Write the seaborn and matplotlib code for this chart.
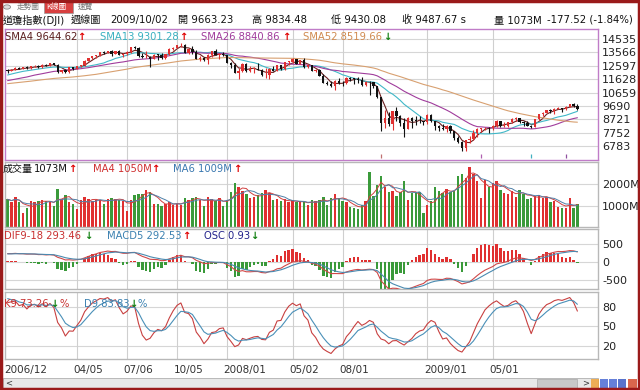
import matplotlib
matplotlib.use("Agg")
import matplotlib.pyplot as plt
import matplotlib.transforms as mtransforms
from matplotlib.patches import Rectangle, Circle
import numpy as np
import pandas as pd
import seaborn as sns

sns.set_theme(style="white")
plt.rcParams['font.family'] = ['DejaVu Sans', 'Noto Sans CJK TC']
CJK = ['Noto Sans CJK TC', 'DejaVu Sans']

# weekly closes before the visible window (only used to warm up the averages)
warmup_close = [10877, 10778, 10875, 10883, 10718, 10959, 10960, 10667, 10907, 10793,
                10919, 11115, 11061, 11022, 11077, 11279, 11280, 11109, 11120, 11137,
                11347, 11367, 11577, 11380, 11144, 11278, 11247, 10891, 11015, 10989,
                11150, 11090, 10739, 10868, 11219, 11240, 11088, 11381, 11284, 11464,
                11392, 11560, 11508, 11679, 11851, 11961, 12002, 12090, 11986, 12108,
                12343, 12280]

dates = [
    "2006-12-01", "2006-12-08", "2006-12-15", "2006-12-22", "2006-12-29",
    "2007-01-05", "2007-01-12", "2007-01-19", "2007-01-26",
    "2007-02-02", "2007-02-09", "2007-02-16", "2007-02-23",
    "2007-03-02", "2007-03-09", "2007-03-16", "2007-03-23", "2007-03-30",
    "2007-04-05", "2007-04-13", "2007-04-20", "2007-04-27",
    "2007-05-04", "2007-05-11", "2007-05-18", "2007-05-25",
    "2007-06-01", "2007-06-08", "2007-06-15", "2007-06-22", "2007-06-29",
    "2007-07-06", "2007-07-13", "2007-07-20", "2007-07-27",
    "2007-08-03", "2007-08-10", "2007-08-17", "2007-08-24", "2007-08-31",
    "2007-09-07", "2007-09-14", "2007-09-21", "2007-09-28",
    "2007-10-05", "2007-10-12", "2007-10-19", "2007-10-26",
    "2007-11-02", "2007-11-09", "2007-11-16", "2007-11-23", "2007-11-30",
    "2007-12-07", "2007-12-14", "2007-12-21", "2007-12-28",
    "2008-01-04", "2008-01-11", "2008-01-18", "2008-01-25",
    "2008-02-01", "2008-02-08", "2008-02-15", "2008-02-22", "2008-02-29",
    "2008-03-07", "2008-03-14", "2008-03-20", "2008-03-28",
    "2008-04-04", "2008-04-11", "2008-04-18", "2008-04-25",
    "2008-05-02", "2008-05-09", "2008-05-16", "2008-05-23", "2008-05-30",
    "2008-06-06", "2008-06-13", "2008-06-20", "2008-06-27",
    "2008-07-03", "2008-07-11", "2008-07-18", "2008-07-25",
    "2008-08-01", "2008-08-08", "2008-08-15", "2008-08-22", "2008-08-29",
    "2008-09-05", "2008-09-12", "2008-09-19", "2008-09-26",
    "2008-10-03", "2008-10-10", "2008-10-17", "2008-10-24", "2008-10-31",
    "2008-11-07", "2008-11-14", "2008-11-21", "2008-11-28",
    "2008-12-05", "2008-12-12", "2008-12-19", "2008-12-26",
    "2009-01-02", "2009-01-09", "2009-01-16", "2009-01-23", "2009-01-30",
    "2009-02-06", "2009-02-13", "2009-02-20", "2009-02-27",
    "2009-03-06", "2009-03-13", "2009-03-20", "2009-03-27",
    "2009-04-03", "2009-04-09", "2009-04-17", "2009-04-24",
    "2009-05-01", "2009-05-08", "2009-05-15", "2009-05-22", "2009-05-29",
    "2009-06-05", "2009-06-12", "2009-06-19", "2009-06-26",
    "2009-07-02", "2009-07-10", "2009-07-17", "2009-07-24", "2009-07-31",
    "2009-08-07", "2009-08-14", "2009-08-21", "2009-08-28",
    "2009-09-04", "2009-09-11", "2009-09-18", "2009-09-25", "2009-10-02",
]

opens = [
    12280, 12194, 12307, 12445, 12343,
    12463, 12398, 12556, 12566,
    12487, 12654, 12581, 12768,
    12647, 12114, 12276, 12110, 12481,
    12354, 12560, 12612, 12962,
    13120, 13264, 13326, 13556,
    13507, 13668, 13424, 13639, 13360,
    13409, 13611, 13907, 13851,
    13265, 13182, 13240, 13079, 13379,
    13358, 13113, 13442, 13821,
    13896, 14066, 14093, 13522,
    13807, 13595, 13043, 13176, 12981,
    13372, 13625, 13339, 13451,
    13366, 12800, 12606, 12099,
    12207, 12743, 12183, 12348, 12381,
    12266, 11894, 11951, 12361,
    12217, 12610, 12325, 12849,
    12891, 13058, 12746, 12986, 12480,
    12638, 12210, 12307, 11843,
    11347, 11288, 11100, 11496,
    11371, 11326, 11734, 11659, 11628,
    11543, 11220, 11421, 11388,
    11143, 10325, 8451, 8852, 8378,
    9325, 8943, 8497, 8046,
    8829, 8635, 8629, 8579,
    8515, 9034, 8599, 8281, 8077,
    8000, 8280, 7850, 7366,
    7063, 6627, 7224, 7279,
    7776, 8018, 8083, 8131,
    8076, 8212, 8575, 8268, 8277,
    8500, 8764, 8799, 8539,
    8438, 8280, 8146, 8743, 9093,
    9171, 9370, 9321, 9505,
    9544, 9441, 9605, 9820, 9663.23,
]

highs = [
    12340, 12340, 12490, 12510, 12530,
    12580, 12570, 12640, 12620,
    12680, 12700, 12790, 12800,
    12690, 12300, 12340, 12500, 12530,
    12580, 12640, 12970, 13180,
    13290, 13370, 13560, 13640,
    13680, 13690, 13660, 13710, 13530,
    13620, 13920, 14020, 13960,
    13480, 13660, 13320, 13400, 13420,
    13510, 13460, 13840, 13950,
    14080, 14200, 14130, 13840,
    14010, 13700, 13320, 13210, 13400,
    13670, 13780, 13480, 13600,
    13390, 12890, 12760, 12400,
    12770, 12760, 12560, 12470, 12760,
    12320, 12420, 12400, 12550,
    12660, 12650, 12870, 12910,
    13130, 13070, 13000, 13140, 12680,
    12650, 12380, 12350, 12000,
    11470, 11470, 11530, 11720,
    11520, 11760, 11810, 11700, 11780,
    11790, 11510, 11480, 11430,
    11150, 10340, 9390, 9260, 9360,
    9650, 9050, 8800, 8880,
    8920, 8960, 9000, 8630,
    9080, 9090, 8640, 8340, 8400,
    8350, 8330, 7870, 7560,
    7130, 7240, 7530, 7930,
    8100, 8090, 8190, 8140,
    8290, 8670, 8580, 8530, 8520,
    8800, 8860, 8800, 8580,
    8580, 8290, 8750, 9110, 9230,
    9430, 9440, 9550, 9630,
    9560, 9660, 9830, 9920, 9834.48,
]

lows = [
    12090, 12180, 12290, 12320, 12330,
    12330, 12340, 12520, 12420,
    12440, 12560, 12570, 12620,
    12040, 12040, 12030, 12100, 12250,
    12350, 12480, 12600, 12950,
    13100, 13180, 13270, 13420,
    13480, 13260, 13410, 13350, 13250,
    13380, 13490, 13790, 13240,
    13180, 13110, 12520, 13060, 13030,
    13100, 13070, 13380, 13750,
    13830, 13920, 13500, 13460,
    13460, 13040, 12950, 12940, 12720,
    13240, 13330, 13050, 13300,
    12780, 12440, 12050, 11630,
    12130, 12120, 12150, 12060, 12250,
    11880, 11730, 11640, 12200,
    12200, 12300, 12250, 12660,
    12780, 12720, 12720, 12460, 12410,
    12200, 12110, 11830, 11330,
    11210, 11050, 10830, 11280,
    11130, 11280, 11480, 11290, 11330,
    11130, 11150, 10460, 10950,
    10270, 7880, 8120, 8250, 7950,
    8580, 8250, 7450, 8000,
    8120, 8300, 8490, 8300,
    8420, 8550, 7940, 7910, 7940,
    7830, 7760, 7250, 7000,
    6470, 6470, 7050, 7220,
    7460, 7790, 7960, 7760,
    7970, 8150, 8190, 8180, 8150,
    8450, 8640, 8470, 8270,
    8230, 8090, 8140, 8680, 9000,
    9150, 9180, 9110, 9460,
    9250, 9430, 9590, 9640, 9430.08,
]

closes = [
    12194, 12307, 12445, 12343, 12463,
    12398, 12556, 12566, 12487,
    12654, 12581, 12768, 12647,
    12114, 12276, 12110, 12481, 12354,
    12560, 12612, 12962, 13120,
    13264, 13326, 13556, 13507,
    13668, 13424, 13639, 13360, 13409,
    13611, 13907, 13851, 13265,
    13182, 13240, 13079, 13379, 13358,
    13113, 13442, 13821, 13896,
    14066, 14093, 13522, 13807,
    13595, 13043, 13176, 12981, 13372,
    13625, 13339, 13451, 13366,
    12800, 12606, 12099, 12207,
    12743, 12183, 12348, 12381, 12266,
    11894, 11951, 12361, 12217,
    12610, 12325, 12849, 12891,
    13058, 12746, 12986, 12480, 12638,
    12210, 12307, 11843, 11347,
    11288, 11100, 11496, 11371,
    11326, 11734, 11659, 11628, 11543,
    11220, 11421, 11388, 11143,
    10325, 8451, 8852, 8378, 9325,
    8943, 8497, 8046, 8829,
    8635, 8629, 8579, 8515,
    9034, 8599, 8281, 8077, 8000,
    8280, 7850, 7366, 7063,
    6627, 7224, 7279, 7776,
    8018, 8083, 8131, 8076,
    8212, 8575, 8268, 8277, 8500,
    8764, 8799, 8539, 8438,
    8280, 8146, 8743, 9093, 9171,
    9370, 9321, 9505, 9544,
    9441, 9605.41, 9820.20, 9665.19, 9487.67,
]

volumes = [  # millions
    1300, 1180, 1400, 1180, 640,
    900, 1200, 1150, 1230,
    1250, 1200, 1150, 1000,
    1780, 1300, 1480, 1150, 1100,
    850, 1250, 1400, 1300,
    1200, 1280, 1250, 1100,
    1300, 1350, 1330, 1250, 1200,
    750, 1280, 1500, 1550,
    1550, 1730, 1620, 1100, 1100,
    1000, 1100, 1150, 1050,
    1100, 1050, 1380, 1250,
    1350, 1400, 1250, 1000, 1400,
    1300, 1200, 1350, 1000,
    1250, 1650, 2080, 1890,
    1700, 1550, 1350, 1420, 1500,
    1600, 1750, 1600, 1250,
    1300, 1200, 1300, 1150,
    1250, 1150, 1200, 1150, 1050,
    1250, 1200, 1250, 1400,
    1050, 1350, 1550, 1350,
    1200, 1150, 950, 900, 850,
    1050, 1200, 2600, 1450,
    1950, 2400, 1900, 1650, 1700,
    1450, 1650, 2150, 1250,
    1600, 1600, 1650, 640,
    1050, 1200, 1860, 1700, 1600,
    1780, 1650, 1700, 2400,
    2500, 2300, 2830, 2500,
    2150, 1350, 2200, 1900,
    2050, 2150, 1750, 1600, 1550,
    1700, 1400, 1750, 1550,
    1300, 1350, 1450, 1500, 1350,
    1400, 1150, 1200, 950,
    904, 880, 1350, 897, 1073,
]

tick_dates = ["2006-12-01", "2007-04-05", "2007-07-06", "2007-10-05", "2008-01-04",
              "2008-05-02", "2008-08-01", "2009-01-02", "2009-05-01"]
tick_labels = ["2006/12", "04/05", "07/06", "10/05", "2008/01",
               "05/02", "08/01", "2009/01", "05/01"]
event_dates = ["2008-10-10", "2009-04-09", "2009-07-10", "2009-09-11"]
event_colors = ["#c07070", "#b060b0", "#40b0c0", "#9050a0"]

price_ticks = [6783, 7752, 8721, 9690, 10659, 11628, 12597, 13566, 14535]

for arr in (opens, highs, lows, closes, volumes):
    assert len(arr) == len(dates)

# ---------------- indicators ----------------
nw = len(warmup_close)
close_all = pd.Series(warmup_close + closes, dtype=float)
sma = {n: close_all.rolling(n).mean().to_numpy()[nw:] for n in (4, 13, 26, 52)}
dif_all = close_all.ewm(span=9, adjust=False).mean() - close_all.ewm(span=18, adjust=False).mean()
macd_all = dif_all.ewm(span=5, adjust=False).mean()
dif = dif_all.to_numpy()[nw:]
macd = macd_all.to_numpy()[nw:]
osc = dif - macd
OSC_SCALE = 4.0  # the software draws the OSC histogram on its own, larger scale

hi_all = pd.Series(warmup_close + highs, dtype=float).rolling(9, min_periods=1).max()
lo_all = pd.Series(warmup_close + lows, dtype=float).rolling(9, min_periods=1).min()
rsv = ((close_all - lo_all) / (hi_all - lo_all).replace(0, np.nan) * 100).fillna(50).to_numpy()
k_all, d_all = [], []
kp = dp = 50.0
for r in rsv:
    kp = kp * 2 / 3 + r / 3
    dp = dp * 2 / 3 + kp / 3
    k_all.append(kp)
    d_all.append(dp)
k9 = np.array(k_all[nw:])
d9 = np.array(d_all[nw:])

vol = pd.Series(volumes, dtype=float)
vma4 = vol.rolling(4, min_periods=1).mean()
vma6 = vol.rolling(6, min_periods=1).mean()

idx = np.arange(len(dates))
o = np.array(opens, dtype=float)
c = np.array(closes, dtype=float)
up = c >= o

RED = "#e03030"
GREEN = "#3a9a3a"
BLACK = "#111111"

# ---------------- figure layout (pixels) ----------------
W, H = 640, 390
fig = plt.figure(figsize=(6.4, 3.9), dpi=100, facecolor="white")


def box(x0, y0, x1, y1):
    return [x0 / W, 1 - y1 / H, (x1 - x0) / W, (y1 - y0) / H]


def ftext(x, y, s, **kw):
    ha = kw.pop("ha", "left")
    fig.text(x / W, 1 - y / H, s, va="center", ha=ha, **kw)


XL = (-0.68, 153.35)
ax_p = fig.add_axes(box(5, 29, 598, 160))
ax_v = fig.add_axes(box(5, 162, 598, 227))
ax_m = fig.add_axes(box(5, 229, 598, 289))
ax_k = fig.add_axes(box(5, 292, 598, 359))

tick_pos = [dates.index(t) for t in tick_dates]

panels = [
    (ax_p, (5796, 15234), price_ticks, [str(t) for t in price_ticks], "#c07cc8"),
    (ax_v, (0, 3050), [1000, 2000], ["1000M", "2000M"], "#b8b8b8"),
    (ax_m, (-750, 917), [-500, 0, 500], ["-500", "0", "500"], "#b8b8b8"),
    (ax_k, (0, 103), [20, 50, 80], ["20", "50", "80"], "#b8b8b8"),
]
for ax, yl, yt, ytl, ec in panels:
    ax.set_xlim(XL)
    ax.set_ylim(yl)
    ax.set_facecolor("white")
    ax.grid(False)
    ax.set_xticks([])
    ax.yaxis.tick_right()
    ax.set_yticks(yt)
    ax.set_yticklabels(ytl)
    ax.tick_params(axis="y", length=0, pad=3, labelsize=8, labelcolor="#222222")
    for t in yt:
        ax.axhline(t, color="#d6d6d6", lw=0.8, zorder=0)
    for p in tick_pos[1:]:
        ax.axvline(p, color="#cfcfcf", lw=0.8, zorder=0)
    for s in ax.spines.values():
        s.set_color(ec)
        s.set_linewidth(1.0)

# ---- price panel ----
cc = np.where(up, RED, BLACK)
ax_p.vlines(idx, lows, highs, colors=cc, lw=0.8, zorder=3)
ax_p.bar(idx, np.maximum(np.abs(c - o), 45), bottom=np.minimum(o, c), width=0.6,
         color=cc, linewidth=0, zorder=4)
ma_colors = {4: "#6a2020", 13: "#40b8c8", 26: "#a03c9c", 52: "#d8a070"}
for n, col in ma_colors.items():
    sns.lineplot(x=idx, y=sma[n], ax=ax_p, color=col, lw=0.8, zorder=2)
for dt, col in zip(event_dates, event_colors):
    p = dates.index(dt)
    ax_p.vlines(p, 5930, 6230, colors=col, lw=0.9)

# ---- volume panel ----
vc = np.where(up, RED, GREEN)
ax_v.bar(idx, volumes, width=0.62, color=vc, linewidth=0, zorder=2)
sns.lineplot(x=idx, y=vma4, ax=ax_v, color="#d04040", lw=0.7, zorder=3)
sns.lineplot(x=idx, y=vma6, ax=ax_v, color="#5080a8", lw=0.7, zorder=3)

# ---- MACD panel ----
mc = np.where(osc >= 0, RED, GREEN)
ax_m.bar(idx, osc * OSC_SCALE, width=0.62, color=mc, linewidth=0, zorder=2)
sns.lineplot(x=idx, y=dif, ax=ax_m, color="#d04848", lw=0.8, zorder=3)
sns.lineplot(x=idx, y=macd, ax=ax_m, color="#4a8ab0", lw=0.8, zorder=3)

# ---- KD panel ----
sns.lineplot(x=idx, y=k9, ax=ax_k, color="#c84040", lw=0.8, zorder=3)
sns.lineplot(x=idx, y=d9, ax=ax_k, color="#4a90b8", lw=0.8, zorder=3)

trans = mtransforms.blended_transform_factory(ax_k.transData, fig.transFigure)
for p, lab in zip(tick_pos, tick_labels):
    ax_k.text(p - 0.9, 1 - 370 / H, lab, transform=trans, ha="left", va="center",
              fontsize=7.5, color="#333333")

for ax in (ax_p, ax_v, ax_m, ax_k):
    ax.set_xlabel("")
    ax.set_ylabel("")

# ---------------- legends ----------------
LS = 7.2
UPC, DNC = "#e00000", "#108010"


def legend_row(y, items):
    for x, s, col, arrow_x, arrow in items:
        ftext(x, y, s, fontsize=LS, color=col)
        ftext(arrow_x, y, arrow, fontsize=LS, color=UPC if arrow == "↑" else DNC,
              fontweight="bold")


legend_row(37, [
    (5, "SMA4 9644.62", "#5a1e1e", 77, "↑"),
    (100, "SMA13 9301.28", "#38b0c0", 179, "↑"),
    (201, "SMA26 8840.86", "#a03c9c", 282, "↑"),
    (303, "SMA52 8519.66", "#d08a50", 383, "↓"),
])
ftext(3, 169, "成交量", fontsize=LS, color="#111111", family=CJK)
legend_row(169, [
    (34, "1073M", "#111111", 68, "↑"),
    (93, "MA4 1050M", "#d03030", 151, "↑"),
    (173, "MA6 1009M", "#3a78b0", 233, "↑"),
])
legend_row(236, [
    (4, "DIF9-18 293.46", "#c83030", 84, "↓"),
    (107, "MACD5 292.53", "#3a80b0", 182, "↑"),
    (204, "OSC 0.93", "#20208a", 250, "↓"),
])
legend_row(304, [
    (4, "K9 73.26", "#c83030", 50, "↓"),
    (84, "D9 83.83", "#3a80b0", 129, "↓"),
])
ftext(59, 304, "%", fontsize=LS, color="#c83030")
ftext(138, 304, "%", fontsize=LS, color="#3a80b0")

# ---------------- title row ----------------
TS = 7.3
for x, s in [(3, "道瓊指數(DJI)"), (71, "週線圖"), (110, "2009/10/02"),
             (178, "開 9663.23"), (252, "高 9834.48"), (331, "低 9430.08"),
             (402, "收 9487.67 s"), (494, "量 1073M"), (547, "-177.52 (-1.84%)")]:
    ftext(x, 20, s, fontsize=TS, color="#111111")

# tabs
fig.add_artist(Circle((7 / W, 1 - 7 / H), 3.5 / W, transform=fig.transFigure,
                      facecolor="#dddddd", edgecolor="#888888", lw=0.6))
ftext(17, 7, "走勢圖", fontsize=5.5, color="#777777", family=CJK)
fig.add_artist(Rectangle((44 / W, 1 - 13 / H), 29 / W, 11 / H, transform=fig.transFigure,
                         facecolor="#d84040", edgecolor="#999999", lw=0.5))
ftext(46, 7, "K線圖", fontsize=5.5, color="white", family=CJK)
ftext(78, 7, "速覽", fontsize=5.5, color="#777777", family=CJK)

# scrollbar
fig.add_artist(Rectangle((3 / W, 1 - 389 / H), 595 / W, 11 / H, transform=fig.transFigure,
                         facecolor="#e8e8e8", edgecolor="#b0b0b0", lw=0.6))
fig.add_artist(Rectangle((537 / W, 1 - 388 / H), 40 / W, 9 / H, transform=fig.transFigure,
                         facecolor="#c8c8c8", edgecolor="#a8a8a8", lw=0.5))
ftext(5, 383, "<", fontsize=6, color="#333333")
ftext(582, 383, ">", fontsize=6, color="#333333")
for x0, w, col in [(591, 8, "#f0a030"), (600, 8, "#4060d0"), (609, 8, "#4060d0"),
                   (618, 8, "#3050c0"), (628, 9, "#d04020")]:
    fig.add_artist(Rectangle((x0 / W, 1 - 388 / H), w / W, 9 / H, transform=fig.transFigure,
                             facecolor=col, edgecolor="none", alpha=0.8))

# window frame
fig.add_artist(Rectangle((0.001, 0.002), 0.997, 0.996, transform=fig.transFigure,
                         fill=False, edgecolor="#9a1a1a", lw=2.5))

fig.savefig("out.png", dpi=100, facecolor="white")
